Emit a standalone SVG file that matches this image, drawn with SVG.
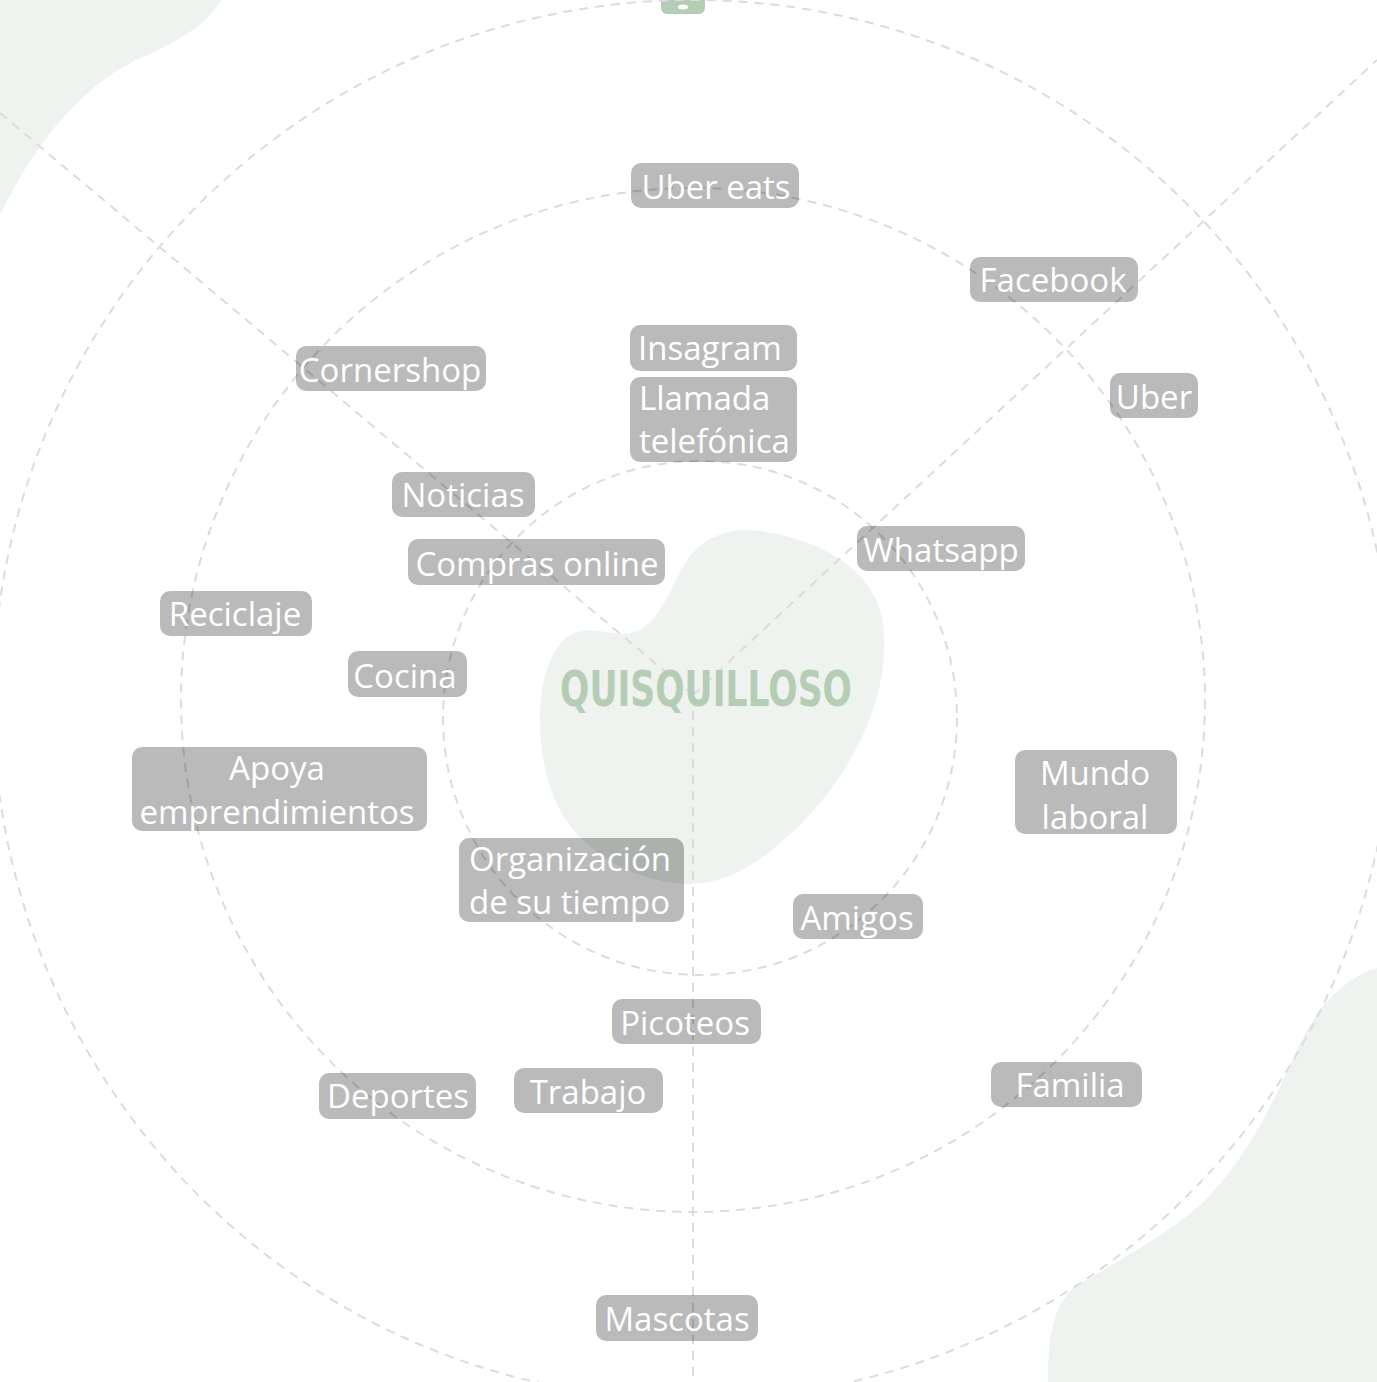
<svg xmlns="http://www.w3.org/2000/svg" width="1377" height="1382" viewBox="0 0 1377 1382">
<defs>
<style>
.bg{fill:#eef3ef}
.ring{fill:none;stroke:#dcdcdc;stroke-width:2;stroke-dasharray:9 7}
.ray{fill:none;stroke:#dcdcdc;stroke-width:2;stroke-dasharray:9 7}
.box{fill:#000;fill-opacity:0.27}
.lbl{font-family:"Open Sans","Liberation Sans",sans-serif;font-size:33px;fill:#ffffff}
.mid{text-anchor:middle}
.title{font-family:"DejaVu Sans","Liberation Sans",sans-serif;font-weight:bold;font-size:49px;fill:#b5cdb5}
</style>
</defs>
<rect width="1377" height="1382" fill="#ffffff"/>
<g id="backdrop">
<path class="bg" d="M0 0 H221 C205 28 172 44 132 62 C82 88 36 140 0 215 Z"/>
<path class="bg" d="M1377 968 C1340 980 1315 1010 1297 1050 C1270 1112 1240 1168 1200 1205 C1160 1240 1110 1265 1075 1287 C1052 1305 1048 1340 1048 1382 L1377 1382 Z"/>
<path class="bg" d="M760 531 C820 540 872 568 882 618 C894 685 858 762 812 812 C768 860 728 885 688 884 C628 882 566 846 548 780 C532 722 540 660 566 638 C590 620 618 642 640 630 C664 616 672 582 690 556 C708 534 734 527 760 531 Z"/>
<rect x="661" y="-10" width="44" height="24" rx="6" fill="#b5cdb5"/>
<ellipse cx="683" cy="7" rx="5" ry="2.5" fill="#ffffff"/>
</g>
<g id="connectors">
<circle class="ring" cx="700" cy="718" r="257"/>
<circle class="ring" cx="693" cy="700" r="512"/>
<circle class="ring" cx="693" cy="700" r="700"/>
<line class="ray" x1="693" y1="695" x2="0" y2="113"/>
<line class="ray" x1="693" y1="695" x2="1377" y2="60"/>
<line class="ray" x1="693" y1="695" x2="693" y2="1382"/>
</g>
<g id="center">
<text class="title" x="560" y="706" textLength="292" lengthAdjust="spacingAndGlyphs">QUISQUILLOSO</text>
</g>
<g id="n-ubereats"><rect class="box" x="631" y="163" width="168" height="45" rx="10"/><text class="lbl mid" x="716" y="199">Uber eats</text></g>
<g id="n-facebook"><rect class="box" x="970" y="257" width="168" height="45" rx="10"/><text class="lbl mid" x="1053" y="292">Facebook</text></g>
<g id="n-insagram"><rect class="box" x="630" y="325" width="167" height="46" rx="10"/><text class="lbl mid" x="710" y="360">Insagram</text></g>
<g id="n-llamada"><rect class="box" x="630" y="377" width="167" height="85" rx="10"/><text class="lbl" x="639" y="410">Llamada</text><text class="lbl" x="639" y="453">telefónica</text></g>
<g id="n-cornershop"><rect class="box" x="296" y="346" width="190" height="45" rx="10"/><text class="lbl mid" x="390" y="382">Cornershop</text></g>
<g id="n-noticias"><rect class="box" x="392" y="472" width="143" height="45" rx="10"/><text class="lbl mid" x="463" y="507">Noticias</text></g>
<g id="n-compras"><rect class="box" x="408" y="539" width="257" height="46" rx="10"/><text class="lbl mid" x="537" y="576">Compras online</text></g>
<g id="n-reciclaje"><rect class="box" x="160" y="591" width="152" height="45" rx="10"/><text class="lbl mid" x="235" y="626">Reciclaje</text></g>
<g id="n-cocina"><rect class="box" x="348" y="651" width="119" height="46" rx="10"/><text class="lbl mid" x="405" y="688">Cocina</text></g>
<g id="n-apoya"><rect class="box" x="132" y="747" width="295" height="84" rx="10"/><text class="lbl mid" x="277" y="780">Apoya</text><text class="lbl mid" x="277" y="824">emprendimientos</text></g>
<g id="n-organizacion"><rect class="box" x="459" y="838" width="225" height="84" rx="10"/><text class="lbl" x="469" y="871">Organización</text><text class="lbl" x="469" y="914">de su tiempo</text></g>
<g id="n-whatsapp"><rect class="box" x="857" y="526" width="168" height="45" rx="10"/><text class="lbl mid" x="941" y="562">Whatsapp</text></g>
<g id="n-uber"><rect class="box" x="1110" y="373" width="88" height="45" rx="10"/><text class="lbl mid" x="1154" y="409">Uber</text></g>
<g id="n-mundo"><rect class="box" x="1015" y="750" width="162" height="84" rx="10"/><text class="lbl mid" x="1095" y="785">Mundo</text><text class="lbl mid" x="1095" y="829">laboral</text></g>
<g id="n-amigos"><rect class="box" x="793" y="894" width="130" height="45" rx="10"/><text class="lbl mid" x="857" y="930">Amigos</text></g>
<g id="n-picoteos"><rect class="box" x="612" y="999" width="149" height="45" rx="10"/><text class="lbl mid" x="685" y="1035">Picoteos</text></g>
<g id="n-deportes"><rect class="box" x="319" y="1073" width="157" height="46" rx="10"/><text class="lbl mid" x="398" y="1108">Deportes</text></g>
<g id="n-trabajo"><rect class="box" x="514" y="1068" width="149" height="45" rx="10"/><text class="lbl mid" x="588" y="1104">Trabajo</text></g>
<g id="n-familia"><rect class="box" x="991" y="1062" width="151" height="45" rx="10"/><text class="lbl mid" x="1070" y="1097">Familia</text></g>
<g id="n-mascotas"><rect class="box" x="596" y="1295" width="162" height="46" rx="10"/><text class="lbl mid" x="677" y="1331">Mascotas</text></g>
</svg>
